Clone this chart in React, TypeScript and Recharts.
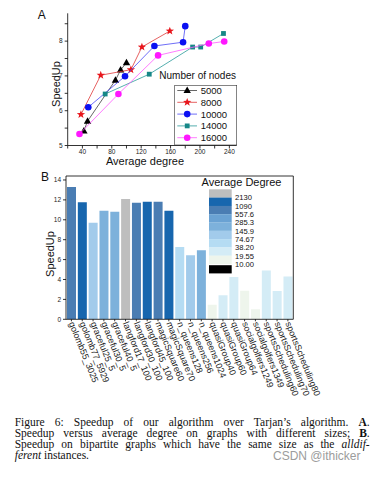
import React from 'react';
import {
  ScatterChart,
  Scatter,
  XAxis,
  YAxis,
  Legend,
  Label,
  BarChart,
  Bar,
  Cell,
  ReferenceLine,
} from 'recharts';

// ---------------- Panel A data ----------------
const nodeCounts = ['5000', '8000', '10000', '14000', '16000'];
const degree5000 = [42, 47, 85, 92, 100];
const speedup5000 = [5.42, 5.7, 6.88, 7.17, 7.38];
const degree8000 = [38, 65, 106, 121, 159];
const speedup8000 = [5.89, 7.02, 7.18, 7.83, 8.29];
const degree10000 = [48, 98, 138, 177, 180];
const speedup10000 = [6.1, 6.99, 7.86, 7.97, 8.43];
const degree14000 = [71, 131, 190, 201, 232];
const speedup14000 = [6.48, 7.05, 7.83, 7.83, 8.22];
const degree16000 = [36, 89, 143, 212, 233];
const speedup16000 = [5.33, 6.48, 7.59, 7.93, 7.99];

const xTicksA = [20, 40, 60, 80, 100, 120, 140, 160, 180, 200, 220, 240];
const xLabelsA = [40, 80, 120, 160, 200, 240];
const yTicksA = [5, 5.5, 6, 6.5, 7, 7.5, 8, 8.5];
const yLabelsA = [5, 6, 7, 8];

// ---------------- Panel B data ----------------
const instances = [
  'golomb55_3025',
  'golomb77_5929',
  'graceful25_5',
  'graceful30_5',
  'graceful40_5',
  'langford17_100',
  'langford30_100',
  'langford45_100',
  'magicSquare60',
  'magicSquare70',
  'n_queens128',
  'n_queens256',
  'n_queens1024',
  'quasiGroup40',
  'quasiGroup60',
  'quasiGroup64',
  'socialgolfers1249',
  'socialgolfers1349',
  'sportsScheduling60',
  'sportsScheduling70',
  'sportsScheduling80',
];
const speedupsB = [
  13.3, 11.75, 9.7, 10.9, 10.8, 12.1, 11.7, 11.8, 11.8, 10.9, 7.27, 6.43, 6.93,
  1.45, 2.42, 4.25, 2.88, 1.0, 4.9, 2.85, 4.3,
];
// average-degree range (index into the legend bins, 0 = above 2130)
const degreeBins = [2, 1, 5, 4, 4, 0, 2, 1, 2, 1, 6, 5, 4, 8, 7, 7, 8, 8, 7, 7, 7];
const degreeLegend = ['2130', '1090', '557.6', '285.3', '145.9', '74.67', '38.20', '19.55', '10.00'];
const yTicksB = [0, 2, 4, 6, 8, 10, 12, 14];

// ---------------- styles ----------------
const FONT = '"Liberation Sans", Arial, sans-serif';
const SERIF = '"Liberation Serif", "Times New Roman", serif';

const SERIES_STYLE = [
  { kind: 'triangle', fill: '#000000', line: '#404040' },
  { kind: 'star', fill: '#e8161c', line: '#e03a3a' },
  { kind: 'circle', fill: '#0b10f2', line: '#4a4af5' },
  { kind: 'square', fill: '#178787', line: '#2a9a9a' },
  { kind: 'circle', fill: '#ff17ff', line: '#ff5cff' },
];

const BIN_COLORS = [
  '#bebebe',
  '#1766ae',
  '#4a7db3',
  '#6aa2d3',
  '#7db1db',
  '#a2cbeb',
  '#b5dcf3',
  '#d4ecf6',
  '#eef5ec',
  '#000000',
];

const seriesData = [
  { name: nodeCounts[0], xs: degree5000, ys: speedup5000 },
  { name: nodeCounts[1], xs: degree8000, ys: speedup8000 },
  { name: nodeCounts[2], xs: degree10000, ys: speedup10000 },
  { name: nodeCounts[3], xs: degree14000, ys: speedup14000 },
  { name: nodeCounts[4], xs: degree16000, ys: speedup16000 },
].map((s) => ({ name: s.name, points: s.xs.map((x, i) => ({ x, y: s.ys[i] })) }));

const barData = instances.map((name, i) => ({ name, speedup: speedupsB[i], bin: degreeBins[i] }));

function Marker({ kind, cx, cy, fill }: { kind: string; cx: number; cy: number; fill: string }) {
  if (cx == null || cy == null) return null;
  if (kind === 'triangle') {
    const r = 3.9;
    return (
      <polygon
        points={`${cx},${cy - r} ${cx + r * 0.95},${cy + r * 0.65} ${cx - r * 0.95},${cy + r * 0.65}`}
        fill={fill}
      />
    );
  }
  if (kind === 'star') {
    const pts: string[] = [];
    for (let i = 0; i < 10; i++) {
      const rad = i % 2 === 0 ? 4.4 : 1.8;
      const a = -Math.PI / 2 + (i * Math.PI) / 5;
      pts.push(`${cx + rad * Math.cos(a)},${cy + rad * Math.sin(a)}`);
    }
    return <polygon points={pts.join(' ')} fill={fill} />;
  }
  if (kind === 'square') {
    return <rect x={cx - 2.4} y={cy - 2.4} width={4.8} height={4.8} fill={fill} />;
  }
  return <circle cx={cx} cy={cy} r={3.3} fill={fill} />;
}

const LegendA = () => (
  <svg width={86} height={80} style={{ overflow: 'visible', display: 'block', fontFamily: FONT }}>
    <text x={83} y={7.7} textAnchor="end" dominantBaseline="central" fontSize={10} fill="#111">
      Number of nodes
    </text>
    <rect x={21.7} y={17.3} width={62} height={59.7} fill="#ffffff" stroke="#333" strokeWidth={0.6} />
    {SERIES_STYLE.map((s, i) => {
      const y = 22.5 + i * 11.8;
      return (
        <g key={i}>
          <line x1={24.3} x2={44} y1={y} y2={y} stroke={s.line} strokeWidth={0.8} />
          <Marker kind={s.kind} cx={34.2} cy={y} fill={s.fill} />
          <text x={47.7} y={y} dominantBaseline="central" fontSize={9.5} fill="#111">
            {nodeCounts[i]}
          </text>
        </g>
      );
    })}
  </svg>
);

const LegendB = () => (
  <svg width={92} height={104} style={{ overflow: 'visible', display: 'block', fontFamily: FONT }}>
    <text x={43.5} y={7.7} textAnchor="middle" dominantBaseline="central" fontSize={11} fill="#111">
      Average Degree
    </text>
    {BIN_COLORS.slice(0, 9).map((c, i) => (
      <rect key={i} x={11} y={15.3 + i * 8.3} width={22.7} height={8.4} fill={c} />
    ))}
    <rect x={11} y={91.2} width={22.7} height={8.2} fill={BIN_COLORS[9]} />
    {degreeLegend.map((l, i) => (
      <text key={l} x={37} y={15.6 + (i + 1) * 8.3} fontSize={7.6} dominantBaseline="central" fill="#111">
        {l}
      </text>
    ))}
  </svg>
);

const CatTick = (props: any) => {
  const { x, y, payload } = props;
  return (
    <text
      x={x}
      y={y}
      transform={`rotate(68, ${x}, ${y})`}
      textAnchor="start"
      dy="0.32em"
      fontSize={9}
      fill="#1a1a1a"
      fontFamily={FONT}
    >
      {payload.value}
    </text>
  );
};

const tickStyle = { fontSize: 6.5, fill: '#222', fontFamily: FONT };

export default function App() {
  return (
    <div
      style={{
        position: 'absolute',
        left: 0,
        top: 0,
        width: 384,
        height: 493,
        background: '#ffffff',
        overflow: 'hidden',
        fontFamily: FONT,
      }}
    >
      <span style={{ position: 'absolute', left: 41.7, top: 15, transform: 'translate(-50%,-50%)', fontSize: 12, lineHeight: '14px', color: '#111' }}>
        A
      </span>
      <span style={{ position: 'absolute', left: 45, top: 176.7, transform: 'translate(-50%,-50%)', fontSize: 12, lineHeight: '14px', color: '#111' }}>
        B
      </span>

      {/* Panel A */}
      <div style={{ position: 'absolute', left: 0, top: 0 }}>
        <ScatterChart
          width={384}
          height={170}
          margin={{ top: 13.3, right: 147.3, left: 47.7, bottom: 4.5 }}
          style={{ fontFamily: FONT }}
        >
          <XAxis
            xAxisId={0}
            type="number"
            dataKey="x"
            domain={[20, 250]}
            allowDataOverflow
            ticks={xTicksA}
            tickFormatter={(v: number) => (xLabelsA.includes(v) ? String(v) : '')}
            tick={tickStyle}
            tickSize={3}
            tickMargin={1}
            height={20}
            stroke="#000"
            strokeWidth={0.8}
          >
            <Label
              content={() => (
                <text x={145} y={161} textAnchor="middle" dominantBaseline="central" fontSize={11} fill="#111" fontFamily={FONT}>
                  Average degree
                </text>
              )}
            />
          </XAxis>
          <XAxis
            xAxisId="top"
            orientation="top"
            type="number"
            domain={[20, 250]}
            allowDataOverflow
            ticks={xTicksA}
            tickFormatter={() => ''}
            tickLine={false}
            height={0}
            stroke="#000"
            strokeWidth={0.8}
          />
          <YAxis
            yAxisId={0}
            type="number"
            dataKey="y"
            domain={[5, 8.8]}
            allowDataOverflow
            ticks={yTicksA}
            tickFormatter={(v: number) => (yLabelsA.includes(v) ? String(v) : '')}
            tick={tickStyle}
            tickSize={3}
            tickMargin={2}
            width={20}
            stroke="#000"
            strokeWidth={0.8}
          >
            <Label
              content={() => (
                <text
                  x={56}
                  y={84}
                  transform="rotate(-90, 56, 84)"
                  textAnchor="middle"
                  dominantBaseline="central"
                  fontSize={11}
                  fill="#111"
                  fontFamily={FONT}
                >
                  SpeedUp
                </text>
              )}
            />
          </YAxis>
          <YAxis
            yAxisId="right"
            orientation="right"
            type="number"
            domain={[5, 8.8]}
            allowDataOverflow
            ticks={yTicksA}
            tickFormatter={() => ''}
            tickLine={false}
            width={0}
            stroke="#000"
            strokeWidth={0.8}
          />
          {seriesData.map((s, i) => {
            const st = SERIES_STYLE[i];
            return (
              <Scatter
                key={s.name}
                name={s.name}
                data={s.points}
                xAxisId={0}
                yAxisId={0}
                fill={st.fill}
                line={{ stroke: st.line, strokeWidth: 0.8 }}
                lineType="joint"
                isAnimationActive={false}
                shape={(p: any) => <Marker kind={st.kind} cx={p.cx} cy={p.cy} fill={st.fill} />}
              />
            );
          })}
          <Legend
            layout="vertical"
            align="center"
            verticalAlign="middle"
            content={() => <LegendA />}
            wrapperStyle={{ left: 153, top: 68, width: 86, height: 80, margin: 0, padding: 0 }}
          />
        </ScatterChart>
      </div>

      {/* Panel B */}
      <div style={{ position: 'absolute', left: 0, top: 160 }}>
        <BarChart
          width={384}
          height={250}
          data={barData}
          margin={{ top: 16, right: 90.7, left: 36, bottom: 0 }}
          barCategoryGap={1}
          style={{ fontFamily: FONT }}
        >
          <XAxis
            xAxisId={0}
            dataKey="name"
            type="category"
            interval={0}
            tick={<CatTick />}
            tickSize={2}
            tickMargin={1}
            height={90.7}
            stroke="#000"
            strokeWidth={0.8}
          />
          <XAxis
            xAxisId="top"
            dataKey="name"
            type="category"
            orientation="top"
            interval={0}
            mirror
            tickFormatter={() => ''}
            tickSize={2}
            height={0}
            stroke="#000"
            strokeWidth={0.8}
          />
          <YAxis
            yAxisId={0}
            type="number"
            domain={[0, 14.4]}
            allowDataOverflow
            ticks={yTicksB}
            tick={tickStyle}
            tickSize={3}
            tickMargin={2}
            width={30}
            stroke="#000"
            strokeWidth={0.8}
          >
            <Label
              content={() => (
                <text
                  x={50}
                  y={94}
                  transform="rotate(-90, 50, 94)"
                  textAnchor="middle"
                  dominantBaseline="central"
                  fontSize={11}
                  fill="#111"
                  fontFamily={FONT}
                >
                  SpeedUp
                </text>
              )}
            />
          </YAxis>
          <YAxis
            yAxisId="right"
            orientation="right"
            type="number"
            domain={[0, 14.4]}
            allowDataOverflow
            ticks={yTicksB}
            tickFormatter={() => ''}
            mirror
            tickSize={2}
            width={0}
            stroke="#000"
            strokeWidth={0.8}
          />
          <ReferenceLine xAxisId={0} yAxisId={0} y={14.4} stroke="#000" strokeWidth={0.8} ifOverflow="visible" />
          <ReferenceLine
            xAxisId={0}
            yAxisId={0}
            x={instances[instances.length - 1]}
            position="end"
            stroke="#000"
            strokeWidth={0.8}
            ifOverflow="visible"
          />
          <Bar dataKey="speedup" xAxisId={0} yAxisId={0} isAnimationActive={false}>
            {barData.map((d) => (
              <Cell key={d.name} fill={BIN_COLORS[d.bin]} />
            ))}
          </Bar>
          <Legend
            layout="vertical"
            align="center"
            verticalAlign="middle"
            content={() => <LegendB />}
            wrapperStyle={{ left: 198, top: 14, width: 92, height: 104, margin: 0, padding: 0 }}
          />
        </BarChart>
      </div>

      {/* Caption */}
      <div
        style={{
          position: 'absolute',
          left: 14.7,
          top: 417.2,
          width: 355,
          fontFamily: SERIF,
          fontSize: 11.5,
          lineHeight: '10.9px',
          color: '#111',
        }}
      >
        <div style={{ textAlign: 'justify', textAlignLast: 'justify', whiteSpace: 'nowrap' as any }}>
          Figure 6: Speedup of our algorithm over Tarjan’s algorithm. <b>A</b>.
        </div>
        <div style={{ textAlign: 'justify', textAlignLast: 'justify' }}>
          Speedup versus average degree on graphs with different sizes; <b>B</b>.
        </div>
        <div style={{ textAlign: 'justify', textAlignLast: 'justify' }}>
          Speedup on bipartite graphs which have the same size as the <i>alldif-</i>
        </div>
        <div>
          <i>ferent</i> instances.
        </div>
      </div>
      <div
        style={{
          position: 'absolute',
          left: 273,
          top: 449.5,
          fontFamily: FONT,
          fontSize: 12,
          lineHeight: '13px',
          color: '#9c9c9c',
          whiteSpace: 'nowrap',
        }}
      >
        CSDN @ithicker
      </div>
    </div>
  );
}
